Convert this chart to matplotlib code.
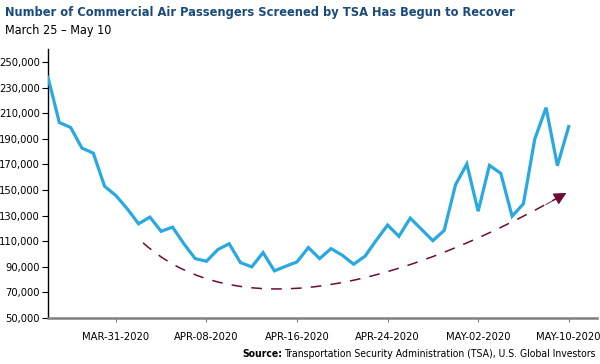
import matplotlib
matplotlib.use("Agg")
import matplotlib.pyplot as plt
import numpy as np
import pandas as pd
from matplotlib.path import Path
from matplotlib.patches import PathPatch

plt.rcParams['font.family'] = ['DejaVu Sans']
plt.rcParams['font.stretch'] = 'condensed'

# daily passengers screened, Mar 25 - May 10 2020
dates = pd.date_range('2020-03-25', '2020-05-10', freq='D')
passengers = [238000, 202700, 198800, 182700, 178800, 152900, 145600, 135300,
              123600, 128800, 117700, 121000, 108000, 96400, 94300, 103400,
              108000, 93300, 89900, 101100, 86800, 90400, 93800, 105000,
              96400, 104200, 99000, 92000, 98200, 110700, 122600, 113800,
              128000, 119200, 110400, 118400, 154000, 170300, 133400, 169200,
              163000, 129500, 139200, 189700, 214300, 169000, 199500]
tick_dates = ['2020-03-31', '2020-04-08', '2020-04-16',
              '2020-04-24', '2020-05-02', '2020-05-10']
tick_labels = ['MAR-31-2020', 'APR-08-2020', 'APR-16-2020',
               'APR-24-2020', 'MAY-02-2020', 'MAY-10-2020']
y_ticks = [50000, 70000, 90000, 110000, 130000, 150000,
           170000, 190000, 210000, 230000, 250000]

# trend arrow (bezier control points: day offset, passengers)
trend_days = [8.4, 15.2, 27.6, 45.8]
trend_vals = [108700, 54800, 56400, 147700]

blue = '#29a9e1'
maroon = '#6a0c38'
navy = '#1b4a7a'

days = np.arange(len(passengers))

fig = plt.figure(figsize=(6, 3.64), dpi=100)
ax = fig.add_axes([0.08, 0.1264, 0.915, 0.7386])

ax.plot(days, passengers, color=blue, lw=2.3, solid_joinstyle='miter', zorder=3)

verts = list(zip(trend_days, trend_vals))
path = Path(verts, [Path.MOVETO, Path.CURVE4, Path.CURVE4, Path.CURVE4])
ax.add_patch(PathPatch(path, facecolor='none', edgecolor=maroon, lw=1.1,
                       linestyle=(0, (7, 6)), zorder=2))
end = np.array(verts[-1])
back = end - 0.1 * (end - np.array(verts[-2]))
ax.annotate('', xy=tuple(end), xytext=tuple(back),
            arrowprops=dict(arrowstyle='-|>', color=maroon, lw=0.6,
                            mutation_scale=20, shrinkA=0, shrinkB=0),
            zorder=4)

ax.set_xlim(0, 48.5)
ax.set_ylim(50000, 260000)

tick_pos = [(pd.Timestamp(d) - dates[0]).days for d in tick_dates]
ax.set_xticks(tick_pos)
ax.set_xticklabels(tick_labels)
ax.set_yticks(y_ticks)
ax.set_yticklabels(['{:,}'.format(v) for v in y_ticks])

for s in ['top', 'right']:
    ax.spines[s].set_visible(False)
ax.spines['left'].set_color('black')
ax.spines['left'].set_linewidth(1.0)
ax.spines['bottom'].set_color('#808080')
ax.spines['bottom'].set_linewidth(1.8)
ax.tick_params(axis='y', length=4, width=0.8, color='black', labelsize=8, pad=2)
ax.tick_params(axis='x', length=3, width=0.8, color='#808080', labelsize=8, pad=7)

fig.text(0.008, 0.965, 'Number of Commercial Air Passengers Screened by TSA Has Begun to Recover',
         color=navy, fontsize=9.2, fontweight='bold', va='center', ha='left')
fig.text(0.008, 0.915, 'March 25 \u2013 May 10', color='black', fontsize=9,
         va='center', ha='left')
src = fig.text(0.993, 0.027, 'Transportation Security Administration (TSA), U.S. Global Investors',
               color='black', fontsize=7.5, ha='right', va='center')
fig.canvas.draw()
bb = src.get_window_extent().transformed(fig.transFigure.inverted())
fig.text(bb.x0 - 0.004, 0.027, 'Source:', color='black', fontsize=7.5,
         fontweight='bold', ha='right', va='center')

fig.savefig('out.png', dpi=100)
